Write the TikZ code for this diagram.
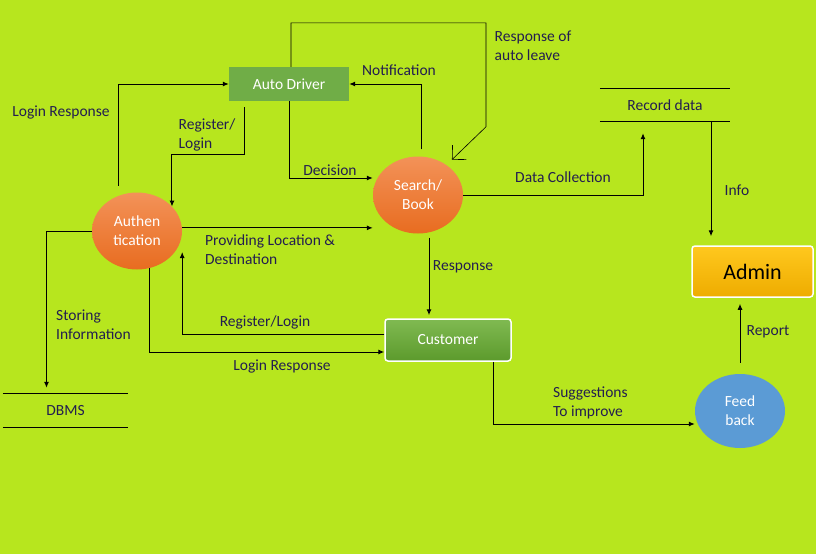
\documentclass[tikz,border=0pt]{standalone}
\usepackage{fontspec}
\setmainfont{Carlito}
\usepackage{tikz}
\usetikzlibrary{arrows.meta,shapes.geometric}

\definecolor{bglime}{RGB}{183,230,30}
\definecolor{labelblue}{RGB}{35,30,80}
\definecolor{drivergreen}{RGB}{112,173,71}
\definecolor{orangetop}{RGB}{243,146,88}
\definecolor{orangebot}{RGB}{232,108,32}
\definecolor{custtop}{RGB}{128,186,82}
\definecolor{custbot}{RGB}{92,154,44}
\definecolor{admintop}{RGB}{255,200,30}
\definecolor{adminbot}{RGB}{238,172,0}
\definecolor{feedblue}{RGB}{91,155,213}

\begin{document}
\begin{tikzpicture}[x=1pt,y=-1pt,
		font=\fontsize{15.5}{19}\selectfont,
		flow/.style={-{Latex[length=6pt,width=5pt]},line width=1pt},
		lbl/.style={text=labelblue,align=left,inner sep=0pt},
		proc/.style={ellipse,minimum width=90pt,minimum height=77pt,inner sep=0pt,align=center,text=white},
		entity/.style={rectangle,rounded corners=3pt,draw=white,line width=1.5pt,text=white}]
	\fill[bglime] (0,0) rectangle (816,554);
	\useasboundingbox (0,0) rectangle (816,554);

	\begin{scope}[]
		\node[rectangle,fill=drivergreen,text=white,minimum width=120pt,minimum height=34pt] (driver) at (289,84) {Auto Driver};
		\node[proc,top color=orangetop,bottom color=orangebot] (auth) at (137,231) {Authen\\tication};
		\node[proc,top color=orangetop,bottom color=orangebot] (search) at (418,195) {Search/\\Book};
		\node[entity,top color=custtop,bottom color=custbot,minimum width=126pt,minimum height=42pt] (customer) at (448,340) {Customer};
		\node[entity,top color=admintop,bottom color=adminbot,text=black,minimum width=121pt,minimum height=51pt,font=\fontsize{22}{26}\selectfont] (admin) at (752.5,271.5) {Admin};
		\node[proc,fill=feedblue,minimum height=74pt] (feed) at (740,411) {Feed\\back};
		\node[lbl,minimum width=130pt,minimum height=32pt,align=center] (record) at (665,105) {Record data};
		\node[lbl,minimum width=125pt,minimum height=33pt,align=center] (dbms) at (65.5,410.5) {DBMS};
	\end{scope}

	% data stores
	\draw[line width=1.3pt] (record.north west) -- (record.north east);
	\draw[line width=1.3pt] (record.south west) -- (record.south east);
	\draw[line width=1.3pt] (dbms.north west) -- (dbms.north east);
	\draw[line width=1.3pt] (dbms.south west) -- (dbms.south east);

	\begin{scope}[]
		\draw[flow,shorten <=10pt] (auth.117) |- (driver.west);
		\draw[flow,shorten <=6pt] ([xshift=-45pt]driver.south) -- ++(0,53) -| (auth.35);
		\draw[flow] (driver.south) |- ([yshift=17pt]search.west);
		\draw[flow,shorten <=7pt] ([xshift=3pt]search.north) |- (driver.east);
		\draw[-{Straight Barb[length=10pt,width=20pt]},line width=0.6pt] ([xshift=2pt]driver.north) -- ++(0,-44) -| ++(195,104) -- ([shift={(2pt,8pt)}]search.north east);
		\draw[flow] (auth.4) -- (auth.4 -| search.west);
		\draw[flow,shorten >=12pt] (search.east) -| ([xshift=-22pt]record.south);
		\draw[flow,shorten >=9pt] ([xshift=46pt]record.south) -- ([xshift=46pt]record.south |- admin.north);
		\draw[flow,shorten <=4pt,shorten >=3pt] ([xshift=11pt]search.south) -- ([xshift=11pt]search.south |- customer.north);
		\draw[flow] ([yshift=6pt]customer.west) -| ([yshift=-21pt]auth.east);
		\draw[flow] (auth.-72) |- ([yshift=-12pt]customer.west);
		\draw[flow,shorten >=6pt] (auth.west) -| ([xshift=-19pt]dbms.north);
		\draw[flow] ([xshift=45pt]customer.south) |- ([yshift=-13pt]feed.west);
		\draw[flow,shorten <=11pt,shorten >=6pt] (feed.north) -- (feed.north |- admin.south);
	\end{scope}

	\begin{scope}[every node/.style={lbl}]
		\node at (61,112) {Login Response};
		\node at (207,135) {Register/\\Login};
		\node at (399,70) {Notification};
		\node at (533,46) {Response of\\auto leave};
		\node at (330,170) {Decision};
		\node at (563,177) {Data Collection};
		\node at (737,190) {Info};
		\node[anchor=west] at (205,249.5) {Providing Location \&\\Destination};
		\node at (463,267) {Response};
		\node at (265,322) {Register/Login};
		\node at (282,366) {Login Response};
		\node[anchor=west] at (56,324.5) {Storing\\Information};
		\node[anchor=west] at (553,402.5) {Suggestions\\To improve};
		\node at (768,332) {Report};
	\end{scope}
\end{tikzpicture}
\end{document}
